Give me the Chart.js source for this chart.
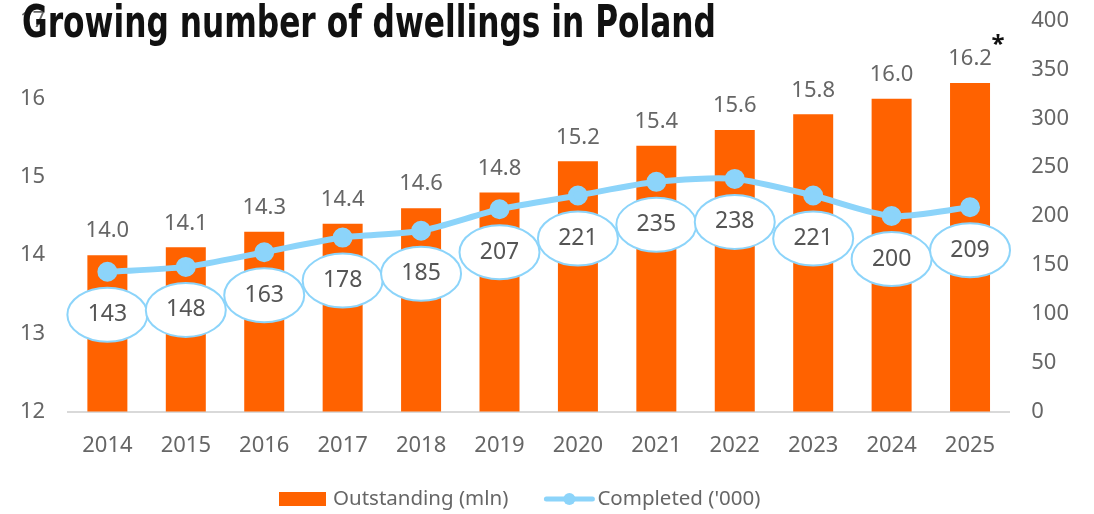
<!DOCTYPE html>
<html>
<head>
<meta charset="utf-8">
<script src="https://cdn.jsdelivr.net/npm/chart.js@4.4.0/dist/chart.umd.min.js"></script>
<style>
  html, body { margin: 0; padding: 0; background: #fff; }
  #wrap { width: 1094px; height: 514px; }
</style>
</head>
<body>
<div id="wrap"><canvas id="myChart"></canvas></div>
<script>
// Daten
const years = ['2014', '2015', '2016', '2017', '2018', '2019', '2020', '2021', '2022', '2023', '2024', '2025'];
const outstanding = [14.0, 14.1, 14.3, 14.4, 14.6, 14.8, 15.2, 15.4, 15.6, 15.8, 16.0, 16.2];
const completed = [143, 148, 163, 178, 185, 207, 221, 235, 238, 221, 200, 209];
const titleText = 'Growing number of dwellings in Poland';
const legendLabels = ['Outstanding (mln)', "Completed ('000)"];

const ORANGE = '#FF6200';
const BLUE = '#8CD4FA';
const GREY = '#666666';
const FONT = '"Noto Sans", sans-serif';

// Beschriftungen: Balkenwerte, Ellipsen, Titel, Legende
const labelPlugin = {
    id: 'labels',
    afterDatasetsDraw(chart) {
        const ctx = chart.ctx;
        ctx.save();
        // Balkenwerte
        const barMeta = chart.getDatasetMeta(0);
        ctx.fillStyle = GREY;
        ctx.font = '22px ' + FONT;
        ctx.textAlign = 'center';
        ctx.textBaseline = 'middle';
        barMeta.data.forEach((bar, i) => {
            ctx.fillText(outstanding[i].toFixed(1), bar.x, bar.y - 24);
        });
        // Sternchen bei 2025
        const last = barMeta.data[barMeta.data.length - 1];
        ctx.fillStyle = '#111';
        ctx.font = 'bold 24px ' + FONT;
        ctx.fillText('*', last.x + 28, last.y - 38);

        // Ellipsen unter den Punkten
        const lineMeta = chart.getDatasetMeta(1);
        lineMeta.data.forEach((pt, i) => {
            const cx = pt.x, cy = pt.y + 43;
            ctx.beginPath();
            ctx.ellipse(cx, cy, 40, 27, 0, 0, Math.PI * 2);
            ctx.fillStyle = '#fff';
            ctx.fill();
            ctx.lineWidth = 2;
            ctx.strokeStyle = BLUE;
            ctx.stroke();
            ctx.fillStyle = '#555';
            ctx.font = '23px ' + FONT;
            ctx.fillText(String(completed[i]), cx, cy);
        });
        ctx.restore();
    },
    afterDraw(chart) {
        const ctx = chart.ctx;
        ctx.save();
        // Titel (schmal gestaucht)
        ctx.fillStyle = '#111';
        ctx.font = 'bold 44px "DejaVu Sans Condensed", "DejaVu Sans", sans-serif';
        ctx.textAlign = 'left';
        ctx.textBaseline = 'alphabetic';
        const tw = ctx.measureText(titleText).width;
        const sx = 694 / tw;
        ctx.translate(22, 37);
        ctx.scale(sx, 1);
        ctx.fillText(titleText, 0, 0);
        ctx.setTransform(1, 0, 0, 1, 0, 0);

        // Legende
        ctx.font = '20.5px ' + FONT;
        ctx.textBaseline = 'middle';
        const y = 499;
        let x = 279;
        ctx.fillStyle = ORANGE;
        ctx.fillRect(x, y - 7, 47, 14);
        ctx.fillStyle = GREY;
        ctx.fillText(legendLabels[0], x + 54, y);
        x += 54 + ctx.measureText(legendLabels[0]).width + 36;
        ctx.strokeStyle = BLUE;
        ctx.lineWidth = 5;
        ctx.lineCap = 'round';
        ctx.beginPath();
        ctx.moveTo(x + 2, y);
        ctx.lineTo(x + 48, y);
        ctx.stroke();
        ctx.beginPath();
        ctx.arc(x + 25, y, 6, 0, Math.PI * 2);
        ctx.fillStyle = BLUE;
        ctx.fill();
        ctx.fillStyle = GREY;
        ctx.fillText(legendLabels[1], x + 53, y);
        ctx.restore();
    }
};

const chart = new Chart('myChart', {
    data: {
        labels: years,
        datasets: [
            {
                type: 'bar',
                label: legendLabels[0],
                data: outstanding,
                yAxisID: 'y',
                backgroundColor: ORANGE,
                categoryPercentage: 1,
                barPercentage: 0.51,
                order: 2
            },
            {
                type: 'line',
                label: legendLabels[1],
                data: completed,
                yAxisID: 'y1',
                borderColor: BLUE,
                backgroundColor: BLUE,
                borderWidth: 6,
                pointRadius: 7,
                pointHoverRadius: 7,
                tension: 0.25,
                order: 1
            }
        ]
    },
    options: {
        responsive: true,
        maintainAspectRatio: false,
        animation: false,
        layout: { padding: { top: 12, left: 5, right: 11, bottom: 42 } },
        plugins: {
            legend: { display: false },
            tooltip: { enabled: false }
        },
        scales: {
            x: {
                grid: { display: false },
                border: { color: '#D9D9D9', width: 2 },
                ticks: { color: GREY, font: { size: 22, family: FONT }, padding: 13 }
            },
            y: {
                position: 'left',
                min: 12,
                max: 17,
                grid: { display: false },
                border: { display: false },
                ticks: { stepSize: 1, color: GREY, font: { size: 22, family: FONT, lineHeight: 0.5 }, padding: 15 }
            },
            y1: {
                position: 'right',
                min: 0,
                max: 400,
                grid: { display: false },
                border: { display: false },
                ticks: { stepSize: 50, color: GREY, font: { size: 22, family: FONT, lineHeight: 0.5 }, padding: 14 }
            }
        }
    },
    plugins: [labelPlugin]
});
</script>
</body>
</html>
